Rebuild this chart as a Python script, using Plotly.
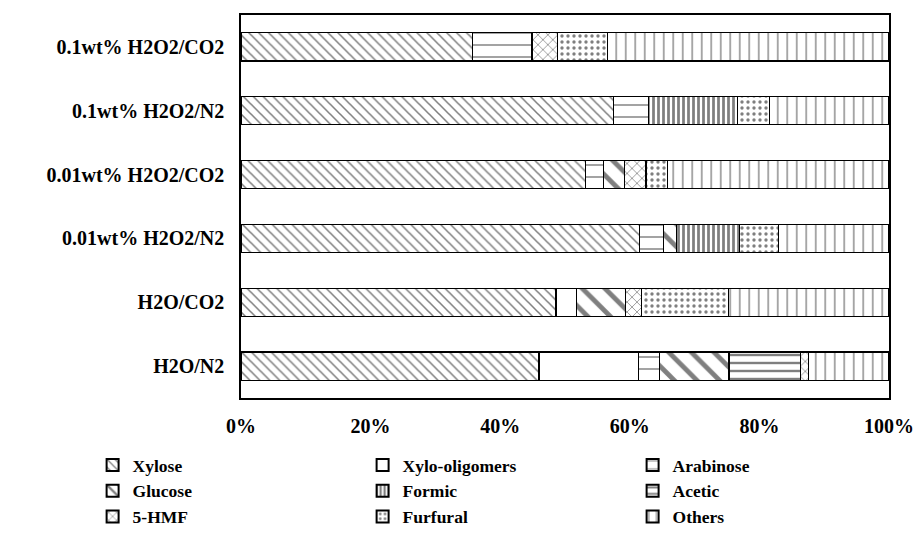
import plotly.graph_objects as go

# Pretreatment conditions (bottom to top on the chart)
conditions = [
    "H2O/N2",
    "H2O/CO2",
    "0.01wt% H2O2/N2",
    "0.01wt% H2O2/CO2",
    "0.1wt% H2O2/N2",
    "0.1wt% H2O2/CO2",
]

# Product distribution (% of total), one list per component
xylose          = [46.0, 48.6, 61.5, 53.2, 57.5, 35.7]
xylo_oligomers  = [15.3, 3.2, None, None, None, None]
arabinose       = [3.3, None, 3.7, 2.7, 5.4, 9.2]
glucose         = [10.7, 7.5, 2.0, 3.3, None, None]
formic          = [None, None, 9.7, None, 13.7, None]
acetic          = [11.0, None, None, None, None, None]
hmf             = [1.3, 2.5, None, 3.3, None, 4.0]
furfural        = [None, 13.4, 6.0, 3.3, 5.0, 7.6]
others          = [12.4, 24.8, 17.1, 34.2, 18.4, 43.5]

x_ticks = [0, 20, 40, 60, 80, 100]
x_tick_text = ["0%", "20%", "40%", "60%", "80%", "100%"]

series = [
    ("Xylose", xylose, dict(shape="\\", size=7, solidity=0.22)),
    ("Xylo-oligomers", xylo_oligomers, dict(shape="")),
    ("Arabinose", arabinose, dict(shape="-", size=12, solidity=0.12)),
    ("Glucose", glucose, dict(shape="\\", size=16, solidity=0.3)),
    ("Formic", formic, dict(shape="|", size=5, solidity=0.55)),
    ("Acetic", acetic, dict(shape="-", size=8, solidity=0.3)),
    ("5-HMF", hmf, dict(shape="x", size=7, solidity=0.2)),
    ("Furfural", furfural, dict(shape=".", size=6, solidity=0.25)),
    ("Others", others, dict(shape="|", size=9.5, solidity=0.14)),
]

fig = go.Figure()
for name, vals, pat in series:
    pattern = dict(fgcolor="black", bgcolor="white", fillmode="overlay", **pat)
    fig.add_trace(go.Bar(
        name=name,
        y=conditions,
        x=vals,
        orientation="h",
        width=0.44,
        marker=dict(color="white", line=dict(color="black", width=1.2), pattern=pattern),
    ))

serif = "Liberation Serif"
fig.update_layout(
    barmode="stack",
    width=923,
    height=547,
    margin=dict(l=241, r=34, t=15, b=149, autoexpand=False),
    paper_bgcolor="white",
    plot_bgcolor="white",
    font=dict(family=serif, color="black"),
    showlegend=True,
    legend=dict(
        orientation="h",
        x=-0.229,
        xanchor="left",
        y=-0.128,
        yanchor="top",
        entrywidth=225,
        entrywidthmode="pixels",
        traceorder="normal",
        font=dict(family=serif, size=17.5, color="black", weight="bold"),
        itemsizing="constant",
        tracegroupgap=0,
    ),
    xaxis=dict(
        range=[0, 100],
        tickvals=x_ticks,
        ticktext=x_tick_text,
        tickfont=dict(family=serif, size=20, color="black", weight="bold"),
        showgrid=False,
        zeroline=False,
        showline=True,
        linecolor="black",
        linewidth=1.5,
        mirror=True,
        ticks="",
        ticklabelstandoff=9,
    ),
    yaxis=dict(
        categoryorder="array",
        categoryarray=conditions,
        range=[-0.5, 5.5],
        tickfont=dict(family=serif, size=20, color="black", weight="bold"),
        showgrid=False,
        showline=True,
        linecolor="black",
        linewidth=1.5,
        mirror=True,
        ticks="",
        ticklabelstandoff=11,
    ),
)

fig.write_html("out.html")
